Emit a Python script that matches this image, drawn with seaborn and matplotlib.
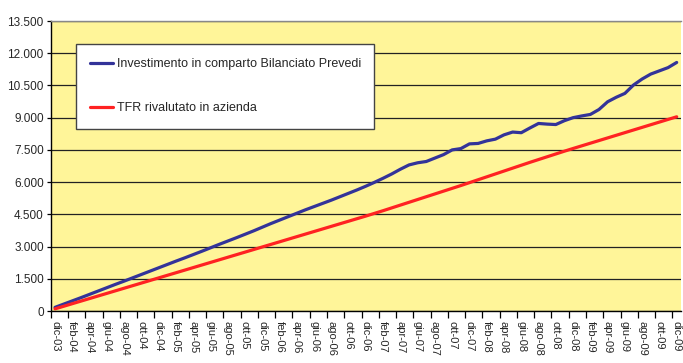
import matplotlib
matplotlib.use("Agg")
import matplotlib.pyplot as plt
import matplotlib.ticker as mticker
import seaborn as sns
import pandas as pd
import numpy as np

months = []
mesi = ["gen", "feb", "mar", "apr", "mag", "giu", "lug", "ago", "set", "ott", "nov", "dic"]
months.append("dic-03")
for y in range(4, 10):
    for m in mesi:
        months.append(f"{m}-{y:02d}")

blue = [170, 320, 470, 620, 775, 930, 1085, 1240, 1390, 1545,
        1700, 1855, 2010, 2165, 2320, 2470, 2625, 2780, 2940, 3100,
        3255, 3410, 3570, 3730, 3900, 4070, 4230, 4390, 4550, 4710,
        4860, 5010, 5160, 5320, 5480, 5640, 5810, 5990, 6180, 6380,
        6600, 6800, 6900, 6960, 7120, 7280, 7500, 7560, 7780, 7800,
        7920, 8000, 8200, 8330, 8300, 8520, 8730, 8700, 8680, 8860,
        9000, 9080, 9150, 9380, 9740, 9950, 10130, 10520, 10800, 11030,
        11180, 11330, 11570]

red = [100, 220, 340, 460, 580, 700, 820, 940, 1060, 1180,
       1300, 1420, 1540, 1660, 1780, 1900, 2020, 2140, 2260, 2380,
       2500, 2620, 2740, 2860, 2980, 3100, 3220, 3340, 3460, 3580,
       3700, 3820, 3940, 4060, 4180, 4300, 4420, 4545, 4670, 4800,
       4930, 5060, 5190, 5320, 5450, 5580, 5710, 5840, 5975, 6110,
       6245, 6380, 6515, 6650, 6785, 6920, 7050, 7180, 7310, 7440,
       7565, 7688, 7811, 7934, 8057, 8180, 8303, 8426, 8549, 8672,
       8795, 8918, 9040]

series_names = ["Investimento in comparto Bilanciato Prevedi", "TFR rivalutato in azienda"]
colors = ["#333399", "#FF2222"]

yticks = [0, 1500, 3000, 4500, 6000, 7500, 9000, 10500, 12000, 13500]

df = pd.DataFrame({
    "idx": list(range(len(months))) * 2,
    "value": blue + red,
    "serie": [series_names[0]] * len(blue) + [series_names[1]] * len(red),
})

sns.set_style("white")
plt.rcParams["font.family"] = ["Liberation Sans", "DejaVu Sans"]

fig = plt.figure(figsize=(6.83, 3.63), dpi=100)
ax = fig.add_axes([50.7 / 683, 52 / 363, (681 - 50.7) / 683, 290 / 363])
ax.set_facecolor("#FFF599")

sns.lineplot(data=df, x="idx", y="value", hue="serie", palette=colors,
             linewidth=2.3, ax=ax, legend=True, zorder=3)

ax.set_xlim(-0.5, len(months) - 0.5)
ax.set_ylim(0, 13500)
ax.set_yticks(yticks)
ax.yaxis.set_major_formatter(mticker.FuncFormatter(lambda v, p: f"{int(v):,}".replace(",", ".")))
ax.grid(axis="y", color="#222222", linewidth=0.9, zorder=1)
ax.set_axisbelow(True)

lab_pos = list(range(0, len(months), 2))
ax.set_xticks(lab_pos)
ax.set_xticklabels([months[i] for i in lab_pos], rotation=270, fontsize=8)
ax.set_xticks([i - 0.5 for i in lab_pos], minor=True)
ax.tick_params(axis="x", which="major", length=0, pad=7)
ax.tick_params(axis="x", which="minor", length=5, width=0.9, color="black", direction="out", bottom=True)
ax.tick_params(axis="y", length=3, width=0.9, color="black", direction="out", left=True, labelsize=8.5, pad=2)
ax.set_xlabel("")
ax.set_ylabel("")

for s in ["left", "bottom"]:
    ax.spines[s].set_color("black")
    ax.spines[s].set_linewidth(1.0)
ax.spines["top"].set_color("#888888")
ax.spines["top"].set_linewidth(1.0)
ax.spines["right"].set_visible(False)

handles, labels = ax.get_legend_handles_labels()
leg = ax.legend(handles, labels, loc="upper left",
                bbox_to_anchor=(0.040, 0.636, 0.473, 0.285), mode="expand",
                fontsize=9, frameon=True, fancybox=False, shadow=False,
                borderpad=1.15, labelspacing=2.55, handlelength=1.8,
                handletextpad=0.3, borderaxespad=0)
leg.get_frame().set_facecolor("white")
leg.get_frame().set_edgecolor("#444444")
leg.get_frame().set_linewidth(1.0)
leg.get_frame().set_alpha(1)
for h in leg.get_lines():
    h.set_linewidth(2.3)

fig.savefig("out.png", dpi=100, facecolor="white")
